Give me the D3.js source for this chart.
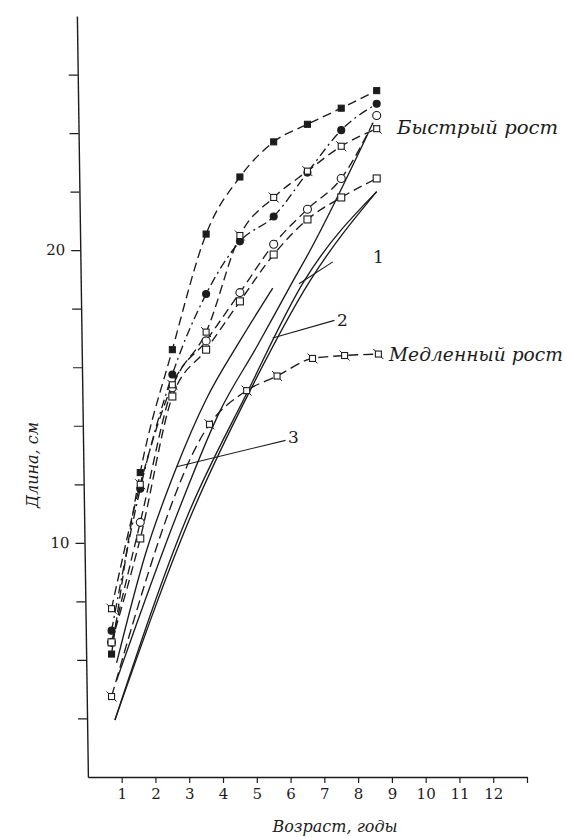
<!DOCTYPE html>
<html>
<head>
<meta charset="utf-8">
<script src="https://cdn.jsdelivr.net/npm/d3@7"></script>
<style>
  html, body { margin: 0; padding: 0; background: #fff; }
  svg { display: block; }
</style>
</head>
<body>
<svg id="chart" width="566" height="837"></svg>
<script>
// Age (years) at which each sample was measured
const ages = [0.7, 1.55, 2.5, 3.5, 4.5, 5.5, 6.5, 7.5, 8.55];

// Fast-growing populations, mean length (cm) by age
const fastFilledSquares = [6.2, 12.4, 16.6, 20.55, 22.5, 23.7, 24.3, 24.85, 25.45];
const fastFilledCircles = [7.0, 11.85, 15.75, 18.5, 20.3, 21.15, 22.65, 24.1, 25.0];
const fastOpenCircles   = [6.6, 10.7, 15.3, 16.9, 18.55, 20.2, 21.4, 22.45, 24.6];
const fastOpenSquares   = [6.6, 10.15, 15.0, 16.6, 18.25, 19.85, 21.05, 21.8, 22.45];
const fastNotched       = [7.75, 12.0, 15.4, 17.2, 20.5, 21.8, 22.7, 23.55, 24.15];

// Slow-growing population
const slowAges   = [0.7, 3.6, 4.7, 5.6, 6.65, 7.6, 8.6];
const slowValues = [4.75, 14.05, 15.2, 15.7, 16.3, 16.4, 16.45];

// Growth lines drawn without sample markers
const line1Ages  = [0.8, 3.0, 4.7, 6.4, 8.55];
const line1Vals  = [3.95, 11.06, 15.1, 18.94, 22.0];
const line2Ages  = [0.8, 3.1, 4.8, 6.57, 8.55];
const line2Vals  = [3.95, 11.06, 15.2, 18.94, 22.0];
const line3Ages  = [0.85, 1.7, 2.63, 3.5, 4.5, 5.47];
const line3Vals  = [5.9, 9.6, 12.6, 14.9, 16.9, 18.7];
const steepAges  = [0.85, 2.67, 3.91, 5.0, 6.07, 6.57, 8.3];
const steepVals  = [5.3, 11.06, 14.5, 16.7, 18.94, 19.97, 24.0];

// Axis ticks and labels
const xTicks = [1, 2, 3, 4, 5, 6, 7, 8, 9, 10, 11, 12, 13];
const xTickLabels = ["1", "2", "3", "4", "5", "6", "7", "8", "9", "10", "11", "12", ""];
const yTicks = [4, 6, 8, 10, 12, 14, 16, 18, 20, 22, 24, 26];
const yLabelled = [10, 20];

const xTitle = "Возраст, годы";
const yTitle = "Длина, см";
const fastLabel = "Быстрый рост";
const slowLabel = "Медленный рост";
const curveNames = ["1", "2", "3"];

const svg = d3.select("#chart");
const ink = "#1c1c1c";
const serif = "'DejaVu Serif', 'Liberation Serif', serif";

const x = d3.scaleLinear().domain([0, 13]).range([87.9, 527]);
const y = d3.scaleLinear().domain([2, 28]).range([777, 16]);

// ---- axes ----
const xAxis = d3.axisBottom(x).tickValues(xTicks)
  .tickFormat((d, i) => xTickLabels[i]).tickSize(6).tickPadding(5).tickSizeOuter(0);
const gx = svg.append("g").attr("transform", `translate(0,${y(2)})`).call(xAxis);
gx.select(".domain").attr("stroke", ink).attr("stroke-width", 1.4);
gx.selectAll(".tick line").attr("stroke", ink).attr("stroke-width", 1.2);
gx.selectAll(".tick text").attr("fill", ink).style("font-family", serif).style("font-size", "15px");

// the vertical axis leans slightly to the left towards the top
const yAxis = d3.axisLeft(y).tickValues(yTicks)
  .tickFormat(d => yLabelled.includes(d) ? String(d) : "").tickSize(9).tickPadding(6).tickSizeOuter(0);
const gy = svg.append("g")
  .attr("transform", `translate(${x(0)},${y(2)}) skewX(0.83) translate(0,${-y(2)})`)
  .call(yAxis);
gy.select(".domain").attr("stroke", ink).attr("stroke-width", 1.4);
gy.selectAll(".tick line").attr("stroke", ink).attr("stroke-width", 1.2);
gy.selectAll(".tick text").attr("fill", ink).style("font-family", serif).style("font-size", "15px");

// axis titles
svg.append("text").attr("x", 335).attr("y", 832).attr("text-anchor", "middle")
  .attr("fill", ink).style("font-family", serif).style("font-style", "italic").style("font-size", "16px")
  .text(xTitle);
svg.append("text").attr("transform", "translate(38,465) rotate(-90)").attr("text-anchor", "middle")
  .attr("fill", ink).style("font-family", serif).style("font-style", "italic").style("font-size", "16px")
  .text(yTitle);

// ---- lines ----
const plot = svg.append("g");
const lineGen = d3.line().x(d => x(d[0])).y(d => y(d[1])).curve(d3.curveMonotoneX);
const pairs = (a, v) => a.map((t, i) => [t, v[i]]);

function drawLine(a, v, dash, width) {
  plot.append("path").datum(pairs(a, v)).attr("d", lineGen)
    .attr("fill", "none").attr("stroke", ink).attr("stroke-width", width || 1.35)
    .attr("stroke-dasharray", dash || null);
}

drawLine(line1Ages, line1Vals);
drawLine(line2Ages, line2Vals);
drawLine(line3Ages, line3Vals);
drawLine(steepAges, steepVals);

drawLine(ages, fastFilledSquares, "9,5");
drawLine(ages, fastFilledCircles, "9,4,2,4");
drawLine(ages, fastOpenCircles, "9,5");
drawLine(ages, fastOpenSquares, "9,5");
drawLine(ages, fastNotched, "9,5");
drawLine(slowAges, slowValues, "10,5");

// ---- markers ----
function squares(a, v, filled, size) {
  plot.selectAll(null).data(pairs(a, v)).join("rect")
    .attr("x", d => x(d[0]) - size / 2).attr("y", d => y(d[1]) - size / 2)
    .attr("width", size).attr("height", size)
    .attr("fill", filled ? ink : "#fff").attr("stroke", ink).attr("stroke-width", 1.1);
}
function circles(a, v, filled, r) {
  plot.selectAll(null).data(pairs(a, v)).join("circle")
    .attr("cx", d => x(d[0])).attr("cy", d => y(d[1])).attr("r", r)
    .attr("fill", filled ? ink : "#fff").attr("stroke", ink).attr("stroke-width", 1.1);
}
function notched(a, v) {
  const g = plot.selectAll(null).data(pairs(a, v)).join("g")
    .attr("transform", d => `translate(${x(d[0])},${y(d[1])})`);
  g.append("rect").attr("x", -3).attr("y", -3).attr("width", 6).attr("height", 6)
    .attr("fill", "#fff").attr("stroke", ink).attr("stroke-width", 1.1);
  g.append("path").attr("d", "M-3,-3 L-5,-5 M3,3 L5,5")
    .attr("stroke", ink).attr("stroke-width", 1);
}

squares(ages, fastFilledSquares, true, 6);
circles(ages, fastFilledCircles, true, 3.5);
circles(ages, fastOpenCircles, false, 4);
squares(ages, fastOpenSquares, false, 7);
notched(ages, fastNotched);
notched(slowAges, slowValues);

// ---- annotations ----
const label = (tx, ty, s, w) => svg.append("text").attr("x", tx).attr("y", ty)
  .attr("textLength", w).attr("lengthAdjust", "spacingAndGlyphs")
  .attr("fill", ink).style("font-family", serif).style("font-style", "italic").style("font-size", "18px").text(s);
label(397, 134, fastLabel, 161);
label(389, 361, slowLabel, 174);

// leader lines from curve numbers to curves
const leaders = [
  { name: curveNames[0], from: [6.25, 18.85], to: [7.25, 19.6], tx: 373, ty: 263 },
  { name: curveNames[1], from: [5.47, 17.0], to: [7.3, 17.6], tx: 337, ty: 326 },
  { name: curveNames[2], from: [2.63, 12.6], to: [5.85, 13.5], tx: 288, ty: 443 }
];
leaders.forEach(l => {
  plot.append("line").attr("x1", x(l.from[0])).attr("y1", y(l.from[1]))
    .attr("x2", x(l.to[0])).attr("y2", y(l.to[1])).attr("stroke", ink).attr("stroke-width", 1.1);
  svg.append("text").attr("x", l.tx).attr("y", l.ty).attr("fill", ink)
    .style("font-family", serif).style("font-size", "17px").text(l.name);
});
</script>
</body>
</html>
